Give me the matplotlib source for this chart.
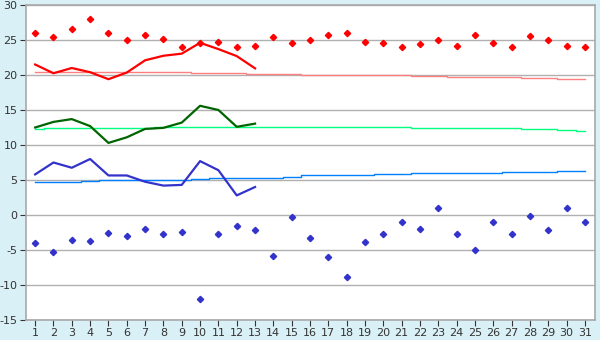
import matplotlib.pyplot as plt

plt.rcParams['axes.unicode_minus'] = False

# daily data, days 1..31
days = list(range(1, 32))

max_temp = [26.0, 25.4, 26.6, 28.0, 26.0, 25.0, 25.7, 25.2, 24.0, 24.6,
            24.7, 24.0, 24.2, 25.4, 24.5, 25.0, 25.7, 26.0, 24.7, 24.5,
            24.0, 24.4, 25.0, 24.2, 25.7, 24.5, 24.0, 25.5, 25.0, 24.2, 24.0]
min_temp = [-4.05, -5.33, -3.62, -3.76, -2.62, -3.05, -2.05, -2.76, -2.48, -12.05,
            -2.76, -1.62, -2.19, -5.9, -0.33, -3.33, -6.05, -8.9, -3.9, -2.76,
            -1.05, -2.05, 0.95, -2.76, -5.05, -1.05, -2.76, -0.19, -2.19, 0.95, -1.05]

# running averages, days 1..13
avg_days = list(range(1, 14))
avg_max = [21.5, 20.25, 21.0, 20.4, 19.4, 20.35, 22.1, 22.75, 23.05, 24.6, 23.7, 22.7, 20.95]
avg_mean = [12.5, 13.3, 13.7, 12.7, 10.3, 11.1, 12.3, 12.45, 13.2, 15.6, 15.0, 12.6, 13.05]
avg_min = [5.8, 7.5, 6.75, 8.0, 5.65, 5.65, 4.75, 4.2, 4.3, 7.7, 6.4, 2.8, 4.0]

# long-term normals, days 1..31
norm_max = [20.45] * 9 + [20.3] * 3 + [20.15] * 3 + [20.0] * 6 + [19.85] * 2 + \
           [19.7] * 4 + [19.55] * 2 + [19.4] * 2
norm_mean = [12.3] + [12.45] * 6 + [12.6] * 8 + [12.55] * 6 + [12.45] * 6 + \
            [12.3] * 2 + [12.15] + [12.0]
norm_min = [4.67] * 3 + [4.86] + [4.95] * 3 + [5.05] * 2 + [5.19] + [5.35] * 4 + \
           [5.5] + [5.65] * 4 + [5.8] * 2 + [5.95] * 5 + [6.1] * 3 + [6.24] * 2

fig = plt.figure(figsize=(6, 3.4), dpi=100, facecolor='#daf0f7')
ax = fig.add_axes([0.0433, 0.0588, 0.9484, 0.9265])
ax.set_facecolor('white')

ax.plot(days, norm_max, color='#ff8080', lw=1.0, drawstyle='steps-mid')
ax.plot(days, norm_mean, color='#00ff80', lw=1.0, drawstyle='steps-mid')
ax.plot(days, norm_min, color='#0080ff', lw=1.0, drawstyle='steps-mid')

ax.plot(avg_days, avg_max, color='#ff0000', lw=1.6)
ax.plot(avg_days, avg_mean, color='#006400', lw=1.6)
ax.plot(avg_days, avg_min, color='#3333cc', lw=1.6)

ax.plot(days, max_temp, 'D', color='#ff0000', ms=3.2, mec='#ff0000')
ax.plot(days, min_temp, 'D', color='#3333cc', ms=3.2, mec='#3333cc')

ax.set_xlim(0.5, 31.55)
ax.set_ylim(-15, 30)
ax.set_xticks(days)
ax.set_yticks(range(-15, 31, 5))
ax.yaxis.grid(True, color='#b0b0b0', lw=1.0)
ax.set_axisbelow(True)
for s in ax.spines.values():
    s.set_color('#a8a8a8')
    s.set_linewidth(1.2)
ax.tick_params(axis='both', labelsize=8, colors='#333333', length=4, width=0.8, pad=2)

fig.savefig('out.png', dpi=100, facecolor=fig.get_facecolor())
